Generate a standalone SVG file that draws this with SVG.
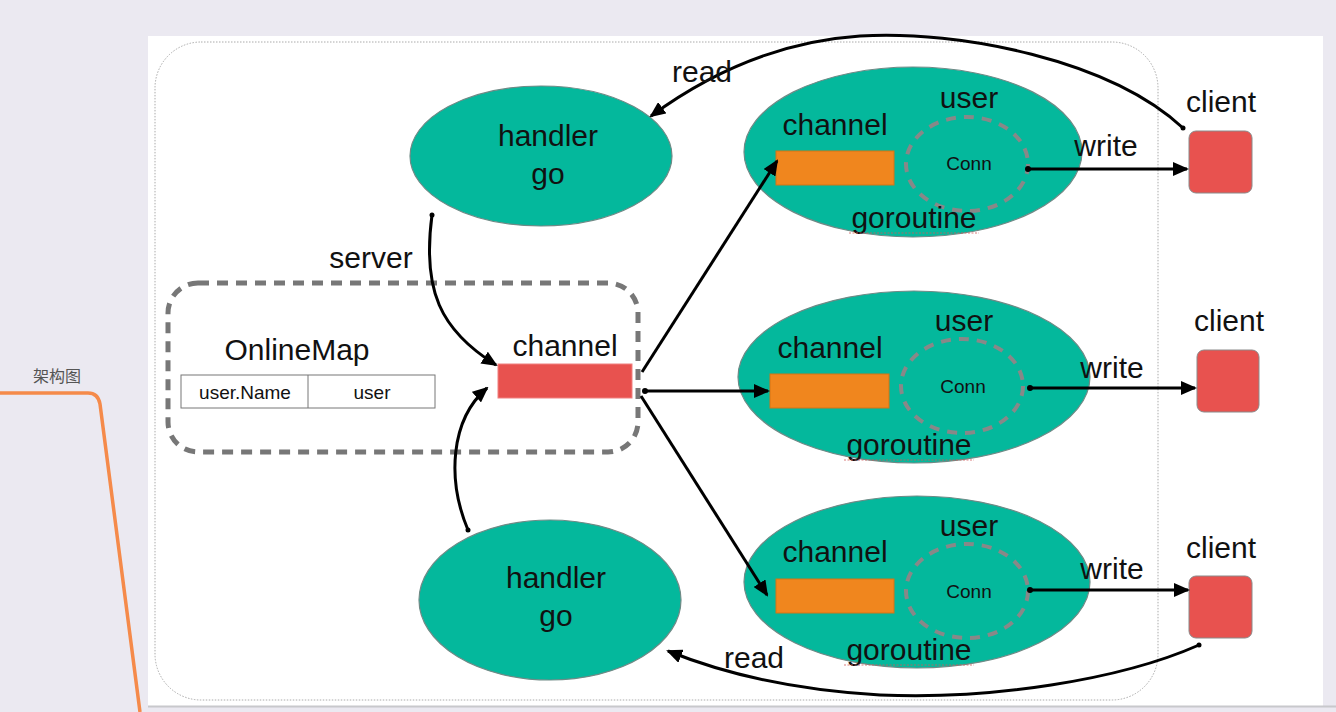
<svg xmlns="http://www.w3.org/2000/svg" width="1336" height="712" viewBox="0 0 1336 712">
<style>
text{font-family:"Liberation Sans",Arial,sans-serif;fill:#111}
.lbl{font-size:30px}
.sm{font-size:19px}
.gor{fill:#04b89c;stroke:#6f8a86;stroke-width:1.2}
.ch{fill:#f0861e;stroke:#d47414;stroke-width:1}
.cli{fill:#e8524f;stroke:#8a8a8a;stroke-width:1}
.conn{fill:none;stroke:#888;stroke-width:4;stroke-dasharray:10 8}
.edge{fill:none;stroke:#000;stroke-width:3}
.spell{fill:none;stroke:#d05a5a;stroke-width:1.2;stroke-dasharray:2 1.5;opacity:.8}
</style>
<defs>
<marker id="ah" markerUnits="userSpaceOnUse" markerWidth="16" markerHeight="14" refX="14" refY="7" orient="auto">
<path d="M0,0 L16,7 L0,14 Z" fill="#000"/>
</marker>
</defs>

<rect x="0" y="0" width="1336" height="712" fill="#ebe9f1"/>
<rect x="148" y="36" width="1175" height="670" fill="#ffffff"/>
<line x1="148" y1="706.5" x2="1336" y2="706.5" stroke="#c8c8cc" stroke-width="2"/>
<rect x="155" y="42" width="1003" height="658" rx="46" fill="none" stroke="#aaa" stroke-width="1" stroke-dasharray="1.5 1.5"/>

<g id="side">
<path d="M0,393 L88,393 Q98,393 100,404 L140,712" fill="none" stroke="#f58a4a" stroke-width="3.5"/>
<text x="57" y="382" text-anchor="middle" style="font-size:16px;fill:#555;font-family:'Liberation Sans','Noto Sans CJK SC',sans-serif">架构图</text>
</g>

<g id="onlinemap">
<rect x="168" y="283" width="470" height="169" rx="30" fill="none" stroke="#777" stroke-width="5" stroke-dasharray="11 8"/>
<text x="297" y="360" text-anchor="middle" class="lbl">OnlineMap</text>
<rect x="181" y="375" width="254" height="33" fill="#fff" stroke="#777" stroke-width="1"/>
<line x1="308" y1="375" x2="308" y2="408" stroke="#777" stroke-width="1"/>
<text x="245" y="399" text-anchor="middle" class="sm">user.Name</text>
<text x="372" y="399" text-anchor="middle" class="sm">user</text>
</g>

<g id="server-channel">
<rect x="498" y="364" width="134" height="34" fill="#e8524f" stroke="#f08080" stroke-width="1"/>
<text x="565" y="356" text-anchor="middle" class="lbl">channel</text>
</g>

<g id="handler-top">
<ellipse cx="541" cy="156" rx="131" ry="70" class="gor"/>
<text x="548" y="146" text-anchor="middle" class="lbl">handler</text>
<text x="548" y="184" text-anchor="middle" class="lbl">go</text>
</g>

<g id="handler-bottom">
<ellipse cx="550" cy="600" rx="131" ry="80" class="gor"/>
<text x="556" y="588" text-anchor="middle" class="lbl">handler</text>
<text x="556" y="626" text-anchor="middle" class="lbl">go</text>
</g>

<g id="goroutine-1">
<ellipse cx="913" cy="152" rx="169" ry="85" class="gor"/>
<text x="835" y="135" text-anchor="middle" class="lbl">channel</text>
<rect x="776" y="151" width="118" height="34" class="ch"/>
<text x="969" y="108" text-anchor="middle" class="lbl">user</text>
<ellipse cx="967" cy="164" rx="61" ry="47" class="conn"/>
<text x="969" y="170" text-anchor="middle" class="sm">Conn</text>
<text x="914" y="228" text-anchor="middle" class="lbl">goroutine</text>
<line x1="849" y1="233" x2="979" y2="233" class="spell"/>
</g>

<g id="goroutine-2">
<ellipse cx="914" cy="377" rx="176" ry="86" class="gor"/>
<text x="830" y="358" text-anchor="middle" class="lbl">channel</text>
<rect x="770" y="374" width="119" height="34" class="ch"/>
<text x="964" y="331" text-anchor="middle" class="lbl">user</text>
<ellipse cx="962" cy="386" rx="61" ry="47" class="conn"/>
<text x="963" y="393" text-anchor="middle" class="sm">Conn</text>
<text x="909" y="455" text-anchor="middle" class="lbl">goroutine</text>
<line x1="844" y1="460" x2="974" y2="460" class="spell"/>
</g>

<g id="goroutine-3">
<ellipse cx="917" cy="582" rx="173" ry="86" class="gor"/>
<text x="835" y="562" text-anchor="middle" class="lbl">channel</text>
<rect x="776" y="579" width="118" height="34" class="ch"/>
<text x="969" y="536" text-anchor="middle" class="lbl">user</text>
<ellipse cx="967" cy="591" rx="61" ry="47" class="conn"/>
<text x="969" y="598" text-anchor="middle" class="sm">Conn</text>
<text x="909" y="660" text-anchor="middle" class="lbl">goroutine</text>
<line x1="844" y1="665" x2="974" y2="665" class="spell"/>
</g>

<g id="client-1">
<text x="1221" y="112" text-anchor="middle" class="lbl">client</text>
<rect x="1189" y="131" width="63" height="62" rx="7" class="cli"/>
</g>
<g id="client-2">
<text x="1229" y="331" text-anchor="middle" class="lbl">client</text>
<rect x="1197" y="350" width="62" height="62" rx="7" class="cli"/>
</g>
<g id="client-3">
<text x="1221" y="558" text-anchor="middle" class="lbl">client</text>
<rect x="1189" y="576" width="63" height="62" rx="7" class="cli"/>
</g>

<g id="connectors">
<path class="edge" d="M432,215 C422,290 440,330 496,365" marker-end="url(#ah)"/>
<circle cx="432" cy="215" r="2.5"/>
<text x="371" y="268" text-anchor="middle" class="lbl">server</text>
<path class="edge" d="M468,530 C447,480 450,420 487,388" marker-end="url(#ah)"/>
<circle cx="468" cy="530" r="2.5"/>

<line class="edge" x1="642" y1="372" x2="777" y2="161" marker-end="url(#ah)"/>
<line class="edge" x1="645" y1="391" x2="768" y2="391" marker-end="url(#ah)"/>
<circle cx="645" cy="391" r="3"/>
<line class="edge" x1="641" y1="396" x2="767" y2="595" marker-end="url(#ah)"/>

<line class="edge" x1="1028" y1="169" x2="1187" y2="169" marker-end="url(#ah)"/>
<circle cx="1028" cy="169" r="3"/>
<text x="1106" y="156" text-anchor="middle" class="lbl">write</text>
<line class="edge" x1="1030" y1="388" x2="1195" y2="388" marker-end="url(#ah)"/>
<circle cx="1030" cy="388" r="3"/>
<text x="1112" y="378" text-anchor="middle" class="lbl">write</text>
<line class="edge" x1="1030" y1="590" x2="1188" y2="590" marker-end="url(#ah)"/>
<circle cx="1030" cy="590" r="3"/>
<text x="1112" y="579" text-anchor="middle" class="lbl">write</text>

<path class="edge" d="M1183,128 C1110,60 960,30 860,36 C770,42 700,80 651,116" marker-end="url(#ah)"/>
<circle cx="1183" cy="128" r="2.5"/>
<text x="702" y="82" text-anchor="middle" class="lbl">read</text>
<path class="edge" d="M1199,645 C1120,680 990,700 880,695 C790,690 720,672 668,651" marker-end="url(#ah)"/>
<circle cx="1199" cy="645" r="2.5"/>
<text x="754" y="668" text-anchor="middle" class="lbl">read</text>
</g>
</svg>
